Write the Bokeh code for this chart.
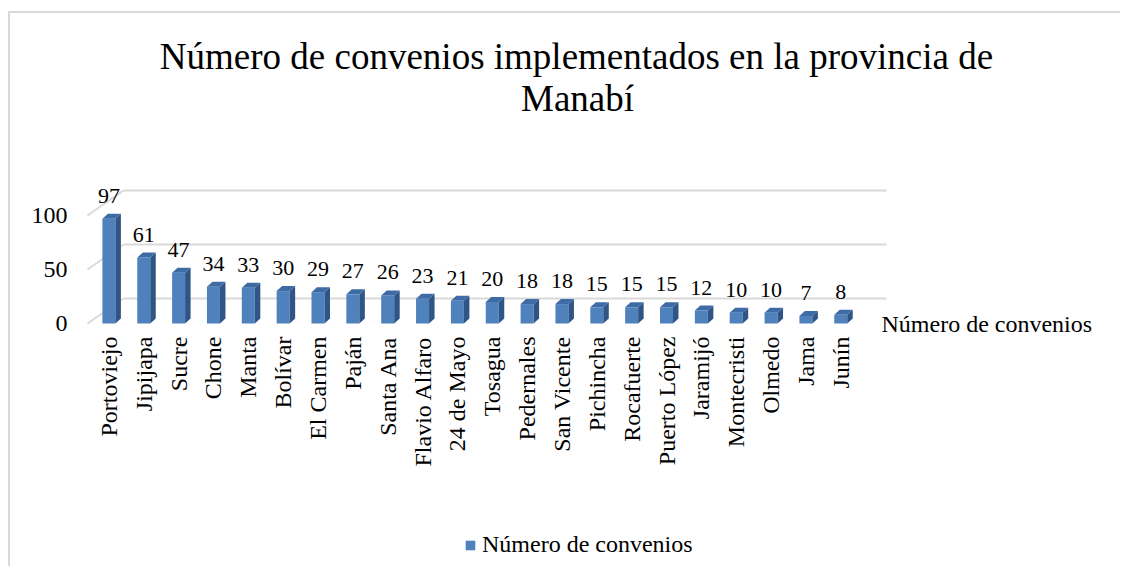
import math
from bokeh.plotting import figure
from bokeh.models import (Range1d, FixedTicker, LinearAxis, Legend, LegendItem,
                          Label, ColumnDataSource)
from bokeh.embed import file_html
from bokeh.resources import INLINE
from bokeh.core.properties import value

# ---------------- data ----------------
categories = ["Portoviejo", "Jipijapa", "Sucre", "Chone", "Manta", "Bolívar",
              "El Carmen", "Paján", "Santa Ana", "Flavio Alfaro", "24 de Mayo",
              "Tosagua", "Pedernales", "San Vicente", "Pichincha", "Rocafuerte",
              "Puerto López", "Jaramijó", "Montecristi", "Olmedo", "Jama", "Junín"]
convenios = [97, 61, 47, 34, 33, 30, 29, 27, 26, 23, 21, 20, 18, 18, 15, 15,
             15, 12, 10, 10, 7, 8]
y_ticks = [0, 50, 100]
series_name = "Número de convenios"
title_lines = ["Número de convenios implementados en la provincia de", "Manabí"]

# ---------------- layout (canvas pixels) ----------------
W, H = 1112, 555
X0 = 98.4          # canvas x of first category centre
Y0 = 310.0         # canvas y of value 0
PX_X = 34.85       # px per category
PX_Y = 1.08        # px per value unit
WALL_L, WALL_R = 77, 876   # canvas x of wall front-left and back-right ends


def dx(cx):
    return (cx - X0) / PX_X


def dy(cy):
    return (Y0 - cy) / PX_Y


x_wall = dx(WALL_L)
x_right = dx(WALL_R)

DX = 36 / PX_X        # wall depth
DY = 25 / PX_Y
HW = 6.5 / PX_X       # bar half width
BDX = 5.5 / PX_X      # bar depth
BDY = 5.0 / PX_Y
LBL = 23.0 / PX_Y     # label gap

FONT = "Liberation Serif"
GRID = "#d9d9d9"

p = figure(width=W, height=H, output_backend="svg", toolbar_location=None,
           title=None,
           x_range=Range1d(dx(0), dx(W)), y_range=Range1d(dy(H), dy(0)),
           min_border_left=0, min_border_right=0,
           min_border_top=0, min_border_bottom=0,
           outline_line_color=None, background_fill_color="white",
           border_fill_color="white")
p.styles = {"border-top": "2px solid #d9d9d9", "border-left": "2px solid #d9d9d9",
            "position": "relative", "left": "8px", "top": "11px"}
p.xgrid.visible = False
p.ygrid.visible = False

# title
for txt, cx, cy in ((title_lines[0], 566, 43), (title_lines[1], 567, 85)):
    p.add_layout(Label(x=dx(cx), y=dy(cy), text=txt, text_align="center",
                       text_baseline="alphabetic", text_font=FONT,
                       text_font_size="37px", text_color="#000000"))

# walls: side diagonals and back gridlines
p.segment(x0=[x_wall] * len(y_ticks), y0=y_ticks,
          x1=[x_wall + DX] * len(y_ticks), y1=[t + DY for t in y_ticks],
          line_color=GRID, line_width=2)
p.segment(x0=[x_wall + DX] * len(y_ticks), y0=[t + DY for t in y_ticks],
          x1=[x_right] * len(y_ticks), y1=[t + DY for t in y_ticks],
          line_color=GRID, line_width=2)

# bars
idx = list(range(len(categories)))
src = ColumnDataSource(dict(
    x=idx, v=convenios,
    left=[i - HW for i in idx], right=[i + HW for i in idx],
    bottom=[0] * len(idx), top=convenios,
))
front = p.quad(left="left", right="right", bottom="bottom", top="top",
               source=src, fill_color="#4F81BD", line_color=None)
side_xs = [[i + HW, i + HW + BDX, i + HW + BDX, i + HW] for i in idx]
side_ys = [[0, BDY, v + BDY, v] for v in convenios]
p.patches(side_xs, side_ys, fill_color="#2F5486", line_color=None)
top_xs = [[i - HW, i + HW, i + HW + BDX, i - HW + BDX] for i in idx]
top_ys = [[v, v, v + BDY, v + BDY] for v in convenios]
p.patches(top_xs, top_ys, fill_color="#3E6BA5", line_color=None)

# data labels
p.text(x=idx, y=[v + LBL for v in convenios], text=[str(v) for v in convenios],
       text_align="center", text_baseline="alphabetic",
       text_font=value(FONT), text_font_size="22px", text_color="#000000")

# axes
for ax in (p.xaxis[0], p.yaxis[0]):
    ax.axis_line_color = None
    ax.major_tick_line_color = None
    ax.minor_tick_line_color = None
    ax.major_tick_out = 0
    ax.major_tick_in = 0
    ax.major_label_text_font = FONT
    ax.major_label_text_color = "#000000"

p.yaxis.ticker = FixedTicker(ticks=y_ticks)
p.yaxis.fixed_location = x_wall
p.yaxis.major_label_text_font_size = "24px"
p.yaxis.major_label_standoff = 20

p.xaxis.ticker = FixedTicker(ticks=idx)
p.xaxis.fixed_location = 0
p.xaxis.major_label_overrides = {i: c for i, c in enumerate(categories)}
p.xaxis.major_label_orientation = math.pi / 2
p.xaxis.major_label_text_font_size = "24px"
p.xaxis.major_label_standoff = 13

rax = LinearAxis(ticker=FixedTicker(ticks=[0]), fixed_location=x_right,
                 major_label_overrides={0: series_name},
                 axis_line_color=None, major_tick_line_color=None,
                 minor_tick_line_color=None, major_tick_out=0, major_tick_in=0,
                 major_label_text_font=FONT, major_label_text_font_size="24px",
                 major_label_text_color="#000000", major_label_standoff=-5)
p.add_layout(rax, "right")

# legend
legend = Legend(items=[LegendItem(label=series_name, renderers=[front])],
                location=(454, 10), border_line_color=None,
                background_fill_alpha=0, padding=0, margin=0,
                glyph_width=12, glyph_height=12, label_standoff=6,
                label_text_font=FONT, label_text_font_size="24px",
                label_text_color="#000000")
p.add_layout(legend, "center")

open("out.html", "w").write(file_html(p, INLINE))
